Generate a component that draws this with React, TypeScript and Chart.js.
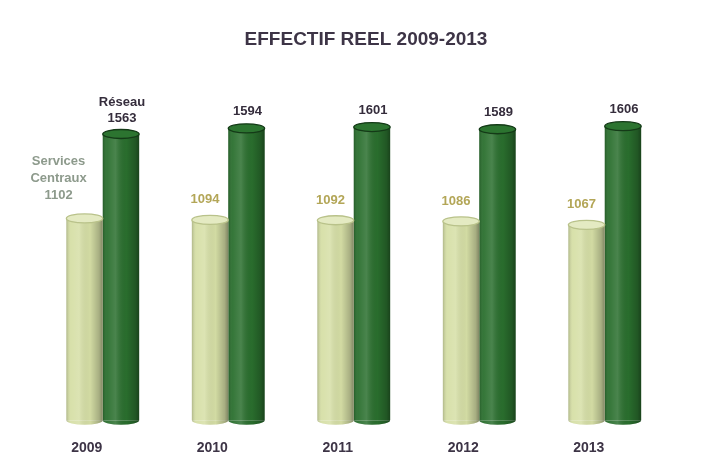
import React, { useEffect, useRef } from "react";
import { Chart, registerables } from "chart.js";

Chart.register(...registerables);

const title = "EFFECTIF REEL 2009-2013";
const years = ["2009", "2010", "2011", "2012", "2013"];
const servicesCentraux = [1102, 1094, 1092, 1086, 1067];
const reseau = [1563, 1594, 1601, 1589, 1606];
const seriesNames = ["Services Centraux", "Réseau"];

const FONT = "'Liberation Sans', Arial, Helvetica, sans-serif";

const baseColors = ["#d6dfa6", "#2a6f2e"];
const capColors = ["#e4eac2", "#2c7430"];
const rimColors = ["#b9c28a", "#143a17"];

const cylinderPlugin = {
  id: "cylinders",
  afterDatasetDraw(chart: any, args: any) {
    const ctx = chart.ctx;
    const di = args.index;
    args.meta.data.forEach((bar: any) => {
      const { x, y, base, width } = bar.getProps(["x", "y", "base", "width"], true);
      const l = x - width / 2;
      const r = x + width / 2;
      const ry = 4.5;
      ctx.save();
      ctx.beginPath();
      ctx.ellipse(x, base, width / 2, ry, 0, 0, Math.PI);
      ctx.fillStyle = baseColors[di];
      ctx.fill();
      const g = ctx.createLinearGradient(l, 0, r, 0);
      g.addColorStop(0, "rgba(0,0,0,0.18)");
      g.addColorStop(0.12, "rgba(255,255,255,0.05)");
      g.addColorStop(0.35, "rgba(255,255,255,0.15)");
      g.addColorStop(0.65, "rgba(0,0,0,0.02)");
      g.addColorStop(0.9, "rgba(0,0,0,0.22)");
      g.addColorStop(1, "rgba(0,0,0,0.4)");
      ctx.beginPath();
      ctx.moveTo(l, y);
      ctx.lineTo(r, y);
      ctx.lineTo(r, base);
      ctx.ellipse(x, base, width / 2, ry, 0, 0, Math.PI);
      ctx.closePath();
      ctx.fillStyle = g;
      ctx.fill();
      ctx.beginPath();
      ctx.ellipse(x, y, width / 2, ry, 0, 0, Math.PI * 2);
      ctx.fillStyle = capColors[di];
      ctx.fill();
      ctx.lineWidth = 1.3;
      ctx.strokeStyle = rimColors[di];
      ctx.stroke();
      ctx.restore();
    });
  },
};

const labelPlugin = {
  id: "labels",
  afterDraw(chart: any) {
    const ctx = chart.ctx;
    ctx.save();
    ctx.font = `bold 19px ${FONT}`;
    ctx.fillStyle = "#3d3446";
    ctx.textAlign = "center";
    ctx.textBaseline = "middle";
    ctx.fillText(title, 366, 40);

    ctx.font = `bold 13px ${FONT}`;
    const lightMeta = chart.getDatasetMeta(0);
    const darkMeta = chart.getDatasetMeta(1);
    lightMeta.data.forEach((bar: any, i: number) => {
      const { x, y } = bar.getProps(["x", "y"], true);
      const v = String(servicesCentraux[i]);
      if (i === 0) {
        ctx.fillStyle = "#8d9a8c";
        const lines = ["Services", "Centraux", v];
        const lx = x - 26;
        lines.forEach((t, k) => ctx.fillText(t, lx, y - 23 - (lines.length - 1 - k) * 17));
      } else {
        ctx.fillStyle = "#b3a657";
        ctx.fillText(v, x - 5, y - 20);
      }
    });
    darkMeta.data.forEach((bar: any, i: number) => {
      const { x, y } = bar.getProps(["x", "y"], true);
      const v = String(reseau[i]);
      ctx.fillStyle = "#352d3c";
      if (i === 0) {
        ctx.fillText("Réseau", x + 1, y - 32);
        ctx.fillText(v, x + 1, y - 16);
      } else {
        ctx.fillText(v, x + 1, y - 17);
      }
    });
    ctx.restore();
  },
};

export default function App() {
  const ref = useRef<HTMLCanvasElement | null>(null);
  useEffect(() => {
    if (!ref.current) return;
    const chart = new Chart(ref.current, {
      type: "bar",
      data: {
        labels: years,
        datasets: [
          {
            label: seriesNames[0],
            data: servicesCentraux,
            backgroundColor: baseColors[0],
            borderWidth: 0,
            categoryPercentage: 0.58,
            barPercentage: 1.0,
          },
          {
            label: seriesNames[1],
            data: reseau,
            backgroundColor: baseColors[1],
            borderWidth: 0,
            categoryPercentage: 0.58,
            barPercentage: 1.0,
          },
        ],
      },
      options: {
        animation: false,
        responsive: true,
        maintainAspectRatio: false,
        layout: { padding: { left: 40, right: 40.5, top: 54, bottom: -3 } },
        plugins: {
          legend: { display: false },
          title: { display: false },
          tooltip: { enabled: false },
        },
        scales: {
          x: {
            grid: { display: false, drawTicks: false },
            border: { display: false },
            ticks: {
              padding: 20,
              labelOffset: -16,
              color: "#3d3446",
              font: { family: FONT, size: 14, weight: "bold" },
            },
          },
          y: {
            display: false,
            min: 0,
            max: 2000,
          },
        },
      },
      plugins: [cylinderPlugin, labelPlugin],
    });
    return () => chart.destroy();
  }, []);
  return (
    <div style={{ position: "fixed", left: 0, top: 0, width: 708, height: 474, background: "#ffffff" }}>
      <canvas ref={ref} />
    </div>
  );
}
